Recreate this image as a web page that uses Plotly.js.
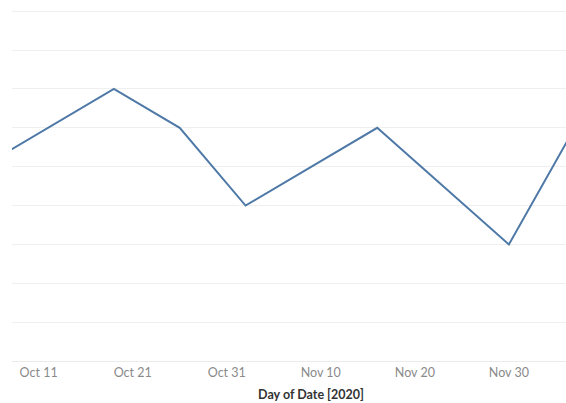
<!DOCTYPE html>
<html>
<head>
<meta charset="utf-8">
<script src="https://cdn.plot.ly/plotly-3.0.1.min.js"></script>
<style>
html, body { margin: 0; padding: 0; overflow: hidden; background: #fff; }
#chart { width: 612px; height: 403px; }
</style>
</head>
<body>
<div id="chart"></div>
<script>
const dates = ['2020-10-05', '2020-10-19', '2020-10-26', '2020-11-02', '2020-11-16', '2020-11-30', '2020-12-07'];
const values = [5, 7, 6, 4, 6, 3, 6];
const axisTitle = 'Day of Date [2020]';

const trace = {
  x: dates,
  y: values,
  type: 'scatter',
  mode: 'lines',
  line: { color: '#4e79a7', width: 2 },
  hoverinfo: 'x+y'
};

const layout = {
  width: 612,
  height: 403,
  margin: { l: 12, r: 2, t: 0, b: 42 },
  paper_bgcolor: '#ffffff',
  plot_bgcolor: '#ffffff',
  showlegend: false,
  font: { family: 'Lato, "Open Sans", sans-serif', color: '#888888', size: 12 },
  xaxis: {
    type: 'date',
    range: ['2020-10-08 04:00', '2020-12-10 18:00'],
    tick0: '2020-10-11',
    dtick: 864000000,
    tickformat: '%b %-d',
    showgrid: false,
    zeroline: false,
    showline: true,
    linecolor: '#ebebeb',
    linewidth: 1,
    ticks: '',
    tickfont: { size: 12.5, color: '#8a8a8a' },
    title: { text: axisTitle, font: { size: 12.5, color: '#333333', weight: 'bold' }, standoff: 11 }
  },
  yaxis: {
    range: [0, 9.29],
    dtick: 1,
    showticklabels: false,
    showgrid: true,
    gridcolor: '#efefef',
    gridwidth: 1,
    zeroline: false,
    showline: false,
    ticks: ''
  }
};

Plotly.newPlot('chart', [trace], layout, { displayModeBar: false, staticPlot: true });
</script>
</body>
</html>
